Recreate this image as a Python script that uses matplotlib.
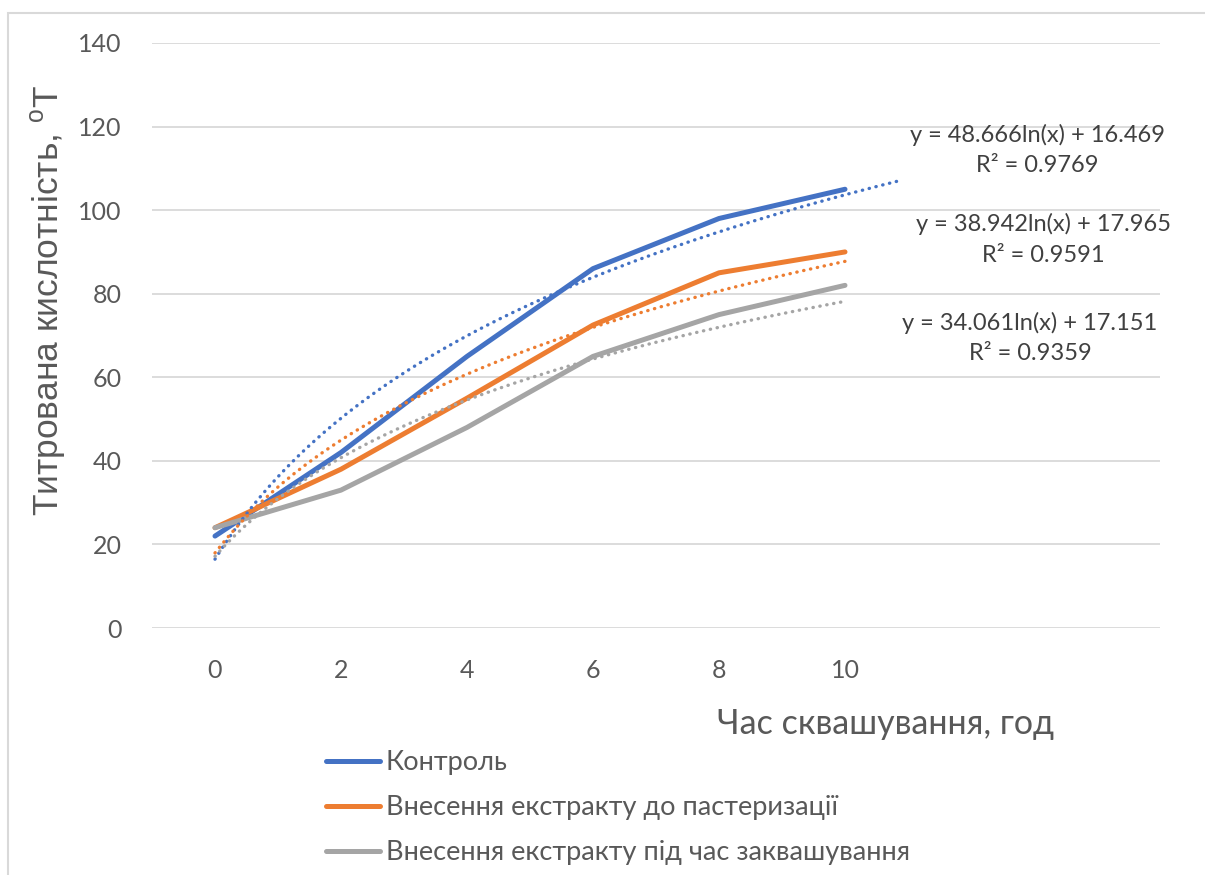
import numpy as np
import matplotlib
matplotlib.use('Agg')
import matplotlib.pyplot as plt
from matplotlib.patches import Rectangle

plt.rcParams['font.family'] = ['Lato', 'DejaVu Sans']
plt.rcParams['mathtext.fontset'] = 'custom'
plt.rcParams['mathtext.rm'] = 'Liberation Sans'

# data
hours = ['0', '2', '4', '6', '8', '10']
control = [22, 42, 65, 86, 98, 105]
before_past = [24, 38, 55, 72.5, 85, 90]
during_ferm = [24, 33, 48, 65, 75, 82]
names = ['Контроль', 'Внесення екстракту до пастеризації', 'Внесення екстракту під час заквашування']

# log trendlines as shown on the chart: y = a*ln(x) + b
trend_a = [48.666, 38.942, 34.061]
trend_b = [16.469, 17.965, 17.151]
trend_r2 = ['0.9769', '0.9591', '0.9359']
trend_end = [6.45, 6.0, 6.0]

colors = ['#4472C4', '#ED7D31', '#A5A5A5']

fig = plt.figure(figsize=(12.05, 8.75), dpi=100)
ax = fig.add_axes([152/1205, 1-628/875, (1160-152)/1205, (628-43)/875])

x = np.arange(1, len(hours) + 1)
for vals, name, c in zip([control, before_past, during_ferm], names, colors):
    ax.plot(x, vals, color=c, lw=3.6, label=name, solid_capstyle='round', solid_joinstyle='round', zorder=3)

for a, b, end, c in zip(trend_a, trend_b, trend_end, colors):
    xf = np.linspace(1, end, 200)
    ax.plot(xf, a*np.log(xf) + b, color=c, lw=2.4, linestyle=(0, (0.1, 2.0)),
            dash_capstyle='round', label='_nolegend_', zorder=4)

ax.set_xlim(0.5, 8.5)
ax.set_ylim(0, 140)
ax.set_xticks(x)
ax.set_xticklabels(hours)
ax.set_yticks(range(0, 141, 20))
ax.tick_params(length=0, labelsize=18, labelcolor='#595959', pad=22)
ax.grid(axis='y', color='#D9D9D9', lw=1.3)
ax.set_axisbelow(True)
for s in ax.spines.values():
    s.set_visible(False)

fig.text(48/1205, 1-300/875, 'Титрована кислотність, $^{\\mathrm{o}}$Т', rotation=90,
         ha='center', va='center', fontsize=25.5, color='#595959', family=['Liberation Sans', 'DejaVu Sans'])
fig.text(885/1205, 1-724/875, 'Час сквашування, год', ha='center', va='center', fontsize=24.5, color='#595959')

eq_pos = [(1037, 135), (1043, 224), (1030, 323)]
for (px, py), a, b, r2 in zip(eq_pos, trend_a, trend_b, trend_r2):
    fig.text(px/1205, 1-py/875, 'y = %.3fln(x) + %.3f' % (a, b), ha='center', va='center', fontsize=17, color='#404040')
    fig.text(px/1205, 1-(py+31)/875, 'R² = ' + r2, ha='center', va='center', fontsize=17, color='#404040')

leg = ax.legend(loc='upper left', bbox_to_anchor=(326/1205, 1-750/875), bbox_transform=fig.transFigure,
                frameon=False, fontsize=19.5, handlelength=2.0, handletextpad=0.2, labelspacing=0.74,
                borderpad=0, borderaxespad=0)
for t in leg.get_texts():
    t.set_color('#595959')

fig.add_artist(Rectangle((8/1205, -0.1), 1.1, 1.1 - 13/875, transform=fig.transFigure,
                         fill=False, edgecolor='#D9D9D9', lw=1.5, clip_on=False))

fig.savefig('out.png', dpi=100)
